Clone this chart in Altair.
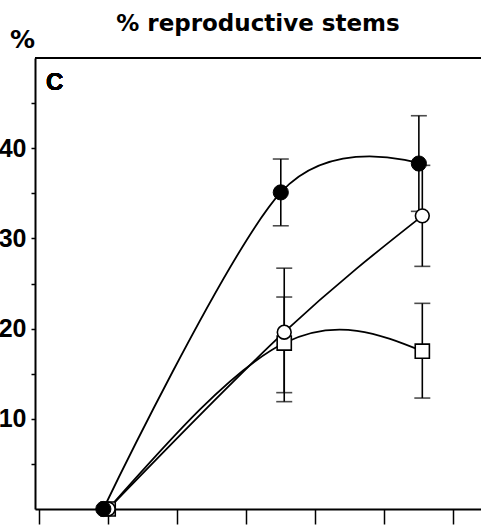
import altair as alt
import pandas as pd

# ---- data ----
x_filled = [0.93, 3.5, 5.5]
y_filled = [0.0, 35.1, 38.3]
lo_filled = [None, 31.4, 33.0]
hi_filled = [None, 38.8, 43.6]

x_open = [1.0, 3.55, 5.55]
y_open = [0.0, 19.6, 32.5]
lo_open = [None, 11.9, 26.9]
hi_open = [None, 26.7, 38.1]

x_square = [1.0, 3.55, 5.55]
y_square = [0.0, 18.4, 17.5]
lo_square = [None, 12.9, 12.3]
hi_square = [None, 23.5, 22.8]

x_ticks = [0, 1, 2, 3, 4, 5, 6]
y_ticks = [5, 10, 15, 20, 25, 30, 35, 40, 45]

rows = []
for name, xs, ys, los, his in [
    ("filled", x_filled, y_filled, lo_filled, hi_filled),
    ("open", x_open, y_open, lo_open, hi_open),
    ("square", x_square, y_square, lo_square, hi_square),
]:
    for i in range(len(xs)):
        rows.append({"series": name, "x": xs[i], "y": ys[i], "lo": los[i], "hi": his[i], "order": i})
df = pd.DataFrame(rows)
err = df.dropna(subset=["lo"])

xs = alt.Scale(domain=[-0.06, 6.4], nice=False, zero=False)
ys = alt.Scale(domain=[0, 50], nice=False)

x_enc = alt.X("x:Q", scale=xs, axis=alt.Axis(
    values=x_ticks, labels=False, tickSize=15, tickWidth=1.5, tickColor="black",
    domainColor="black", domainWidth=2, grid=False, title=None))
y_enc = alt.Y("y:Q", scale=ys, axis=alt.Axis(
    values=y_ticks, labelExpr="datum.value % 10 == 0 ? datum.label : ''",
    tickSize=4, tickWidth=1.5, tickColor="black", domainColor="black", domainWidth=2,
    grid=False, labelFont="Liberation Sans", labelFontWeight="bold", labelFontSize=25,
    labelColor="black", labelPadding=5, title="%", titleAngle=0, titleFont="DejaVu Sans",
    titleFontWeight="bold", titleFontSize=25, titleColor="black", titleX=-13, titleY=-11,
    titleAlign="center", titleBaseline="alphabetic"))

filled_line = alt.Chart(df[df.series == "filled"]).mark_line(
    interpolate="cardinal", color="black", strokeWidth=1.8).encode(
    x=x_enc, y=y_enc, order="order:Q")
other_lines = alt.Chart(df[df.series != "filled"]).mark_line(
    interpolate="natural", color="black", strokeWidth=1.8).encode(
    x="x:Q", y="y:Q", detail="series:N", order="order:Q")

err_base = alt.Chart(err)
rules = err_base.mark_rule(color="black", strokeWidth=1.6).encode(
    x="x:Q", y="lo:Q", y2="hi:Q")
caps_lo = err_base.mark_tick(orient="horizontal", color="black", thickness=1.6, size=16).encode(
    x="x:Q", y="lo:Q")
caps_hi = err_base.mark_tick(orient="horizontal", color="black", thickness=1.6, size=16).encode(
    x="x:Q", y="hi:Q")

sq = alt.Chart(df[df.series == "square"]).mark_point(
    shape="square", size=200, filled=True, fill="white", stroke="black", strokeWidth=1.6, opacity=1
).encode(x="x:Q", y="y:Q")
oc = alt.Chart(df[df.series == "open"]).mark_point(
    shape="circle", size=190, filled=True, fill="white", stroke="black", strokeWidth=1.6, opacity=1
).encode(x="x:Q", y="y:Q")
fc = alt.Chart(df[df.series == "filled"]).mark_point(
    shape="circle", size=230, filled=True, fill="black", stroke="black", strokeWidth=1, opacity=1
).encode(x="x:Q", y="y:Q")

top_rule = alt.Chart(df).mark_rule(color="black", strokeWidth=2).encode(y=alt.datum(50))

label_c = alt.Chart(df).mark_text(
    text="C", font="Liberation Sans", fontWeight="bold", fontSize=24, color="black",
    align="left", baseline="alphabetic"
).encode(x=alt.datum(0.1), y=alt.datum(46.5))

chart = alt.layer(
    filled_line, other_lines, rules, caps_lo, caps_hi, sq, oc, fc, top_rule, label_c
).properties(
    width=446, height=451,
    title=alt.TitleParams("% reproductive stems", font="DejaVu Sans", fontWeight="bold",
                          fontSize=23, color="black", anchor="middle", offset=-9),
    autosize=alt.AutoSizeParams(type="none"),
    padding={"left": 35, "top": 58, "right": 0, "bottom": 16},
).configure_view(stroke=None).configure(background="white")

chart.save("out.html", embed_options={"renderer": "svg", "actions": False})
